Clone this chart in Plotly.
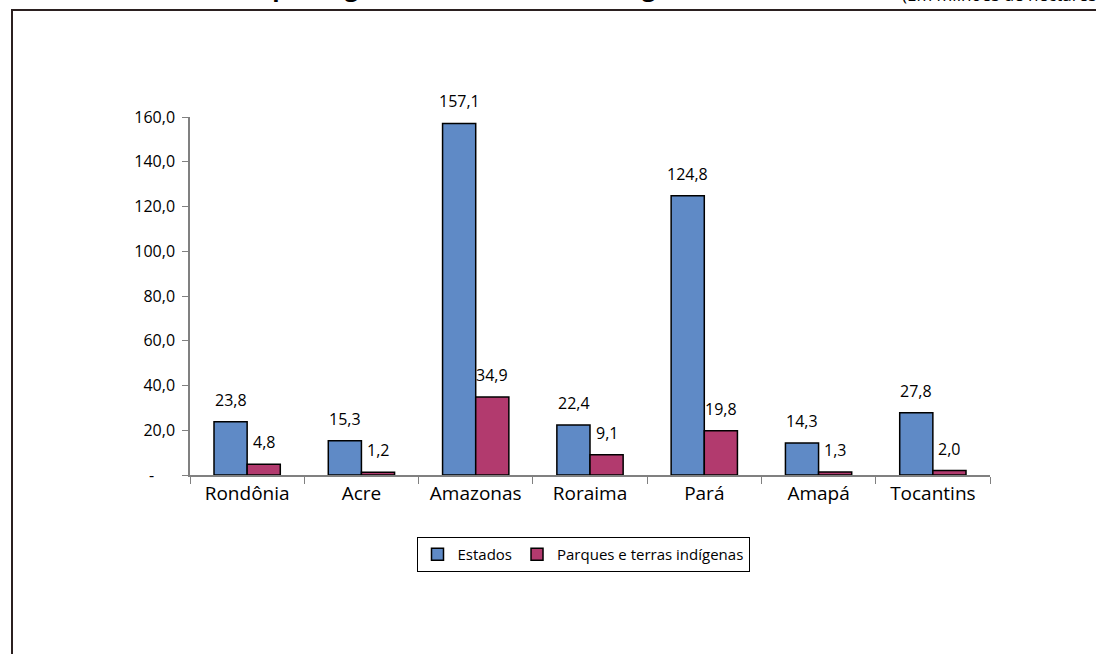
import plotly.graph_objects as go

categories = ["Rondônia", "Acre", "Amazonas", "Roraima", "Pará", "Amapá", "Tocantins"]
estados = [23.8, 15.3, 157.1, 22.4, 124.8, 14.3, 27.8]
parques = [4.8, 1.2, 34.9, 9.1, 19.8, 1.3, 2.0]
ytick_vals = [0, 20, 40, 60, 80, 100, 120, 140, 160]
ytick_text = ["-" + "\u00a0" * 5, "20,0", "40,0", "60,0", "80,0", "100,0", "120,0", "140,0", "160,0"]

def fmt(v):
    return f"{v:.1f}".replace(".", ",")

FONT = "Open Sans"
W, H = 1096, 654
L, R, T, B = 190, 106, 117, 179
PW, PH = W - L - R, H - T - B
BAR_PX = 33  # half of group width in px

def px_x(p):
    return (p - L) / PW

def px_y(p):
    return (H - B - p) / PH

fig = go.Figure()
fig.add_trace(go.Bar(
    name="Estados", x=categories, y=estados,
    marker=dict(color="#5F8AC6", line=dict(color="#000000", width=1.5)),
))
fig.add_trace(go.Bar(
    name="Parques e terras indígenas", x=categories, y=parques,
    marker=dict(color="#B23A6E", line=dict(color="#000000", width=1.5)),
))

annotations = []
for cat, v in zip(categories, estados):
    annotations.append(dict(x=cat, y=v, xref="x", yref="y", text=fmt(v), showarrow=False,
                            xanchor="center", yanchor="bottom", xshift=-BAR_PX / 2, yshift=9,
                            font=dict(family=FONT, size=16, color="#000000")))
for cat, v in zip(categories, parques):
    annotations.append(dict(x=cat, y=v, xref="x", yref="y", text=fmt(v), showarrow=False,
                            xanchor="center", yanchor="bottom", xshift=BAR_PX / 2, yshift=9,
                            font=dict(family=FONT, size=16, color="#000000")))

annotations += [
    dict(text="<b>Área por região e área de terras indígenas</b>", xref="paper", yref="paper",
         x=px_x(208), xanchor="left", y=px_y(5), yanchor="bottom",
         showarrow=False, font=dict(family=FONT, size=24, color="#000000")),
    dict(text="(Em milhões de hectares)", xref="paper", yref="paper",
         x=px_x(900), xanchor="left", y=px_y(8.5), yanchor="bottom",
         showarrow=False, font=dict(family=FONT, size=17, color="#000000")),
]

fig.update_layout(
    width=W, height=H,
    margin=dict(l=L, r=R, t=T, b=B),
    paper_bgcolor="white", plot_bgcolor="white",
    barmode="group", bargap=0.42, bargroupgap=0,
    font=dict(family=FONT, color="#000000"),
    showlegend=True,
    legend=dict(
        orientation="h", x=px_x(583), xanchor="center", y=px_y(537), yanchor="top",
        bordercolor="#000000", borderwidth=1, bgcolor="white",
        font=dict(family=FONT, size=15, color="#000000"),
        itemwidth=30, traceorder="normal",
    ),
    xaxis=dict(
        showline=True, linecolor="#808080", linewidth=1.5,
        ticks="outside", tickson="boundaries", ticklen=7, tickcolor="#808080",
        tickfont=dict(family=FONT, size=19, color="#000000"),
        showgrid=False,
    ),
    yaxis=dict(
        range=[0, 160], tickvals=ytick_vals, ticktext=ytick_text,
        showline=True, linecolor="#808080", linewidth=1.5,
        ticks="outside", ticklen=6, tickcolor="#808080",
        ticklabelstandoff=4,
        tickfont=dict(family=FONT, size=16, color="#000000"),
        showgrid=False, zeroline=False,
    ),
    shapes=[dict(
        type="rect", xref="paper", yref="paper",
        x0=px_x(12), x1=px_x(1200), y0=px_y(760), y1=px_y(10),
        line=dict(color="#2B2020", width=2), fillcolor="rgba(0,0,0,0)", layer="below",
    )],
    annotations=annotations,
)

fig.write_html("out.html")
